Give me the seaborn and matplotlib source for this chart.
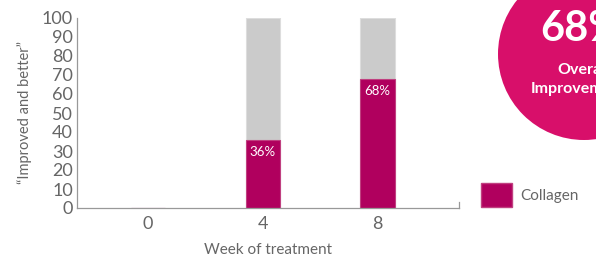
import matplotlib
matplotlib.use("Agg")
import matplotlib.pyplot as plt
from matplotlib.patches import Circle, Patch
import seaborn as sns
import pandas as pd

weeks = ["0", "4", "8"]
total = [0, 100, 100]
collagen = [0, 36, 68]
labels = ["", "36%", "68%"]
yticks = [0, 10, 20, 30, 40, 50, 60, 70, 80, 90, 100]

MAG = "#b0005e"
GRAY = "#cbcbcb"
TXT = "#666666"

sns.set_theme(style="white")
plt.rcParams["font.family"] = ["Lato", "DejaVu Sans"]

fig = plt.figure(figsize=(5.96, 2.61), dpi=100)
fig.patch.set_facecolor("white")

ax = fig.add_axes([77 / 596, (261 - 208) / 261, (459 - 77) / 596, (208 - 18) / 261])
ax.patch.set_alpha(0)

df = pd.DataFrame({"week": weeks, "total": total, "collagen": collagen})
sns.barplot(data=df, x="week", y="total", color=GRAY, width=0.3, ax=ax, saturation=1,
            edgecolor="#dddddd", linewidth=0.8)
sns.barplot(data=df, x="week", y="collagen", color=MAG, width=0.3, ax=ax, saturation=1,
            edgecolor="#c04080", linewidth=0.8)

for i, (v, lab) in enumerate(zip(collagen, labels)):
    if lab:
        ax.text(i, v - 3.5, lab, ha="center", va="top", color="white", fontsize=9.5)

ax.set_xlim(-0.62, 2.71)
ax.set_ylim(0, 100)
ax.set_yticks(yticks)
ax.set_yticklabels([str(t) for t in yticks], fontsize=13, color=TXT)
ax.tick_params(axis="y", direction="in", length=6, width=0.9, color="#999999", pad=3)
ax.tick_params(axis="x", length=0, labelsize=13, labelcolor=TXT, pad=6)
ax.spines["top"].set_visible(False)
ax.spines["right"].set_bounds(0, 3)
for s in ["left", "bottom", "right"]:
    ax.spines[s].set_color("#999999")
    ax.spines[s].set_linewidth(0.9)
ax.set_xlabel("Week of treatment", fontsize=11, color=TXT, labelpad=8)
ax.set_ylabel("\u201cImproved and better\u201d", fontsize=10.5, color=TXT, labelpad=7)

leg = ax.legend(handles=[Patch(facecolor=MAG, edgecolor="#c04080", label="Collagen")],
                loc="center left", bbox_to_anchor=(481 / 596, (261 - 195) / 261),
                bbox_transform=fig.transFigure, frameon=False, fontsize=11,
                handlelength=2.0, handleheight=2.0, borderpad=0, borderaxespad=0,
                handletextpad=0.6)
for t in leg.get_texts():
    t.set_color(TXT)

# badge circle
fig.patches.append(Circle((584, 261 - 54), 86, transform=None, facecolor="#d80f6a",
                          edgecolor="none", zorder=5))
fig.text(540 / 596, (261 - 29) / 261, "68%", ha="left", va="center", color="white",
         fontsize=30, fontweight="bold", zorder=6)
fig.text(557 / 596, (261 - 70) / 261, "Overall", ha="left", va="center", color="white",
         fontsize=11.5, fontweight="bold", zorder=6)
fig.text(531 / 596, (261 - 89) / 261, "Improvement", ha="left", va="center", color="white",
         fontsize=11.5, fontweight="bold", zorder=6)

fig.savefig("out.png", dpi=100)
